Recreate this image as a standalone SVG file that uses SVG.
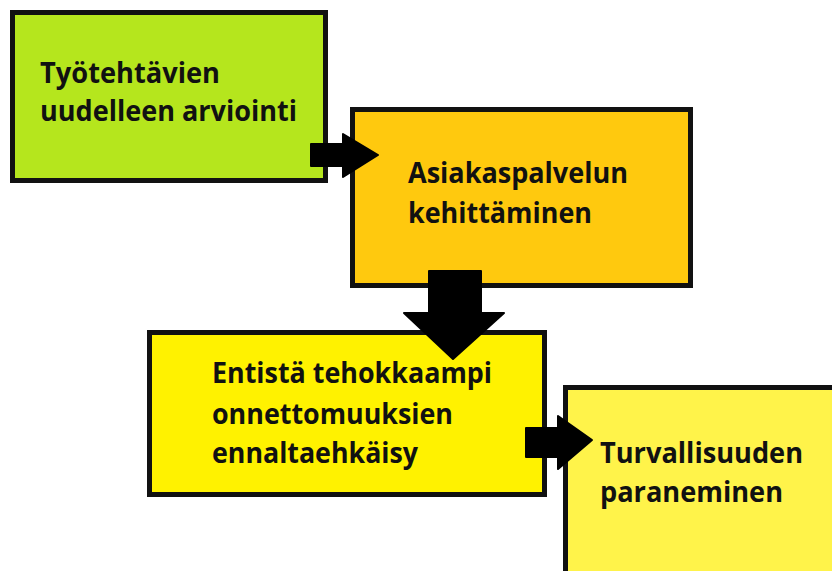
<svg xmlns="http://www.w3.org/2000/svg" width="832" height="571" viewBox="0 0 832 571">
<style>
.box{stroke:#111;stroke-width:5}
.t{font-family:"Open Sans","Noto Sans",sans-serif;font-weight:bold;font-size:28px;fill:#111}
.arr{fill:#000;stroke:#000;stroke-width:2;stroke-linejoin:round}
</style>
<rect width="832" height="571" fill="#fff"/>
<g id="node1">
<rect class="box" x="12.5" y="12.5" width="313" height="168" fill="#b5e61d"/>
<text class="t" x="40" y="83" textLength="180" lengthAdjust="spacingAndGlyphs">Työtehtävien</text>
<text class="t" x="40" y="121" textLength="257" lengthAdjust="spacingAndGlyphs">uudelleen arviointi</text>
</g>
<g id="node2">
<rect class="box" x="352.5" y="109.5" width="338" height="176" fill="#ffc90e"/>
<text class="t" x="408" y="183" textLength="220" lengthAdjust="spacingAndGlyphs">Asiakaspalvelun</text>
<text class="t" x="408" y="223" textLength="184" lengthAdjust="spacingAndGlyphs">kehittäminen</text>
</g>
<g id="node3">
<rect class="box" x="149.5" y="332.5" width="395" height="162" fill="#fff200"/>
<text class="t" x="212" y="383" textLength="280" lengthAdjust="spacingAndGlyphs">Entistä tehokkaampi</text>
<text class="t" x="212" y="424" textLength="241" lengthAdjust="spacingAndGlyphs">onnettomuuksien</text>
<text class="t" x="212" y="463" textLength="206" lengthAdjust="spacingAndGlyphs">ennaltaehkäisy</text>
</g>
<g id="node4">
<rect class="box" x="565.5" y="387.5" width="300" height="250" fill="#fff34a"/>
<text class="t" x="600" y="463" textLength="203" lengthAdjust="spacingAndGlyphs">Turvallisuuden</text>
<text class="t" x="600" y="502" textLength="183" lengthAdjust="spacingAndGlyphs">paraneminen</text>
</g>
<g id="connectors">
<polygon class="arr" points="311,144 343,144 343,134 378,155 343,177 343,166 311,166"/>
<polygon class="arr" points="429,271 481,271 481,313 504,313 453,359 404,313 429,313"/>
<polygon class="arr" points="526,428 558,428 558,416 592,440 558,469 558,457 526,457"/>
</g>
</svg>
